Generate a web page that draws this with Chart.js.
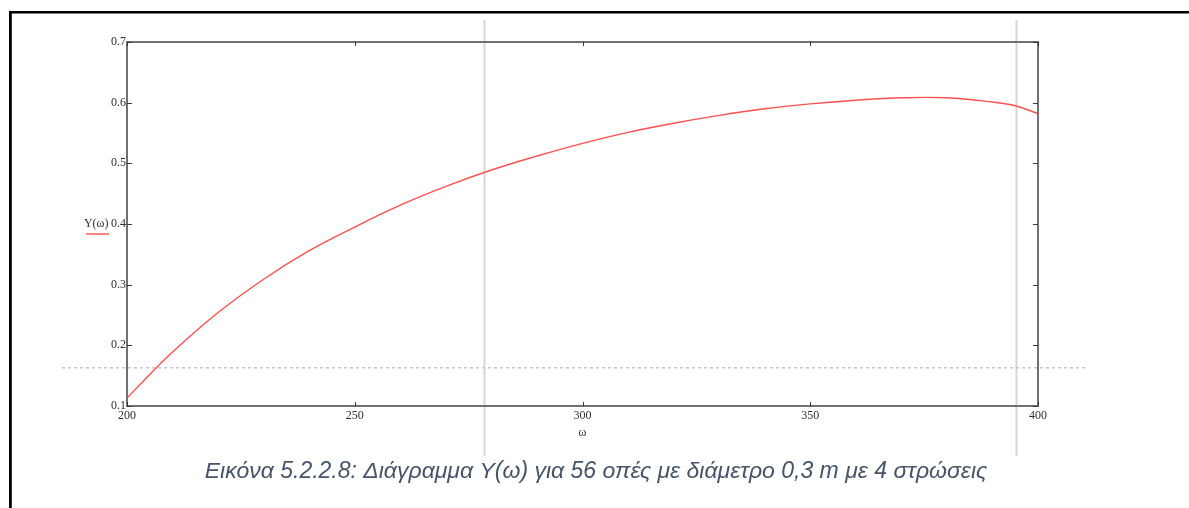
<!DOCTYPE html>
<html>
<head>
<meta charset="utf-8">
<script src="https://cdn.jsdelivr.net/npm/chart.js@4"></script>
<style>
  html, body { margin: 0; padding: 0; background: #ffffff; }
  canvas { display: block; }
</style>
</head>
<body>
<canvas id="chart" width="1189" height="508"></canvas>
<script>
// ω samples and the response Y(ω)
const omega  = [200, 205, 210, 220, 230, 240, 250, 260, 270, 280, 290, 300,
                310, 320, 330, 340, 350, 360, 370, 380, 390, 395, 400];
const yOmega = [0.113, 0.152, 0.189, 0.254, 0.309, 0.356, 0.395, 0.431, 0.462, 0.489, 0.512, 0.533,
                0.551, 0.566, 0.579, 0.590, 0.598, 0.604, 0.608, 0.608, 0.601, 0.595, 0.582];

// axis ticks
const xTicks = [200, 250, 300, 350, 400];
const yTicks = [0.1, 0.2, 0.3, 0.4, 0.5, 0.6, 0.7];

// trace markers (vertical at ω, horizontal at Y)
const markerOmega = [278.3, 395.1];
const markerY = [0.163];

const caption = 'Εικόνα 5.2.2.8: Διάγραμμα Υ(ω) για 56 οπές με διάμετρο 0,3 m με 4 στρώσεις';
const traceName = 'Y(ω)';

const tickFont = { family: '"Liberation Serif", "DejaVu Serif", serif', size: 12 };
const tickColor = '#2f2f2f';

const decorations = {
  id: 'decorations',
  beforeDraw(chart) {
    const ctx = chart.ctx;
    ctx.save();
    // page frame
    ctx.fillStyle = '#000000';
    ctx.fillRect(9, 11, 1180, 2.5);
    ctx.fillRect(9, 11, 2.8, 497);

    // caption
    ctx.fillStyle = '#44546a';
    ctx.font = 'italic 23px "Liberation Sans", Arial, sans-serif';
    ctx.textAlign = 'center';
    ctx.textBaseline = 'alphabetic';
    ctx.fillText(caption, 596, 478);

    // trace name with its line sample
    const y = chart.scales.y;
    const yMid = y.getPixelForValue(0.4);
    ctx.fillStyle = '#2f2f2f';
    ctx.font = '12px "Liberation Serif", "DejaVu Serif", serif';
    ctx.textAlign = 'right';
    ctx.textBaseline = 'middle';
    ctx.fillText(traceName, 108.5, yMid);
    ctx.strokeStyle = '#ff5050';
    ctx.lineWidth = 1.4;
    ctx.beginPath();
    ctx.moveTo(86, yMid + 10);
    ctx.lineTo(109, yMid + 10);
    ctx.stroke();
    ctx.restore();
  },
  beforeDatasetsDraw(chart) {
    const ctx = chart.ctx;
    const { x, y } = chart.scales;
    ctx.save();
    ctx.strokeStyle = '#d6d6d6';
    ctx.lineWidth = 2;
    markerOmega.forEach(v => {
      const px = Math.round(x.getPixelForValue(v)) + 0.5;
      ctx.beginPath();
      ctx.moveTo(px, 20);
      ctx.lineTo(px, 456);
      ctx.stroke();
    });
    ctx.strokeStyle = '#c9c9c9';
    ctx.lineWidth = 1.5;
    ctx.setLineDash([3, 3]);
    markerY.forEach(v => {
      const py = y.getPixelForValue(v);
      ctx.beginPath();
      ctx.moveTo(62, py);
      ctx.lineTo(1087, py);
      ctx.stroke();
    });
    ctx.restore();
  },
  afterDatasetsDraw(chart) {
    const ctx = chart.ctx;
    const { x, y } = chart.scales;
    const a = chart.chartArea;
    ctx.save();
    // plot frame
    ctx.strokeStyle = '#707070';
    ctx.lineWidth = 2;
    ctx.strokeRect(a.left, a.top, a.right - a.left, a.bottom - a.top);
    // inward tick marks on all four sides
    ctx.strokeStyle = '#3a3a3a';
    ctx.lineWidth = 1;
    x.ticks.forEach(t => {
      const px = Math.round(x.getPixelForValue(t.value)) + 0.5;
      ctx.beginPath();
      ctx.moveTo(px, a.bottom); ctx.lineTo(px, a.bottom - 4);
      ctx.moveTo(px, a.top); ctx.lineTo(px, a.top + 4);
      ctx.stroke();
    });
    y.ticks.forEach(t => {
      const py = Math.round(y.getPixelForValue(t.value)) + 0.5;
      ctx.beginPath();
      ctx.moveTo(a.left, py); ctx.lineTo(a.left + 5, py);
      ctx.moveTo(a.right, py); ctx.lineTo(a.right - 5, py);
      ctx.stroke();
    });
    ctx.restore();
  }
};

new Chart(document.getElementById('chart'), {
  type: 'line',
  data: {
    datasets: [{
      label: traceName,
      data: omega.map((w, i) => ({ x: w, y: yOmega[i] })),
      borderColor: '#ff4f4f',
      borderWidth: 1.4,
      pointRadius: 0,
      fill: false,
      tension: 0.4
    }]
  },
  options: {
    responsive: false,
    animation: false,
    devicePixelRatio: 1,
    layout: { padding: { left: 0, right: 151, top: 42, bottom: 68 } },
    plugins: { legend: { display: false }, tooltip: { enabled: false } },
    scales: {
      x: {
        type: 'linear',
        min: 200, max: 400,
        afterBuildTicks(scale) { scale.ticks = xTicks.map(v => ({ value: v })); },
        afterFit(scale) { scale.height = 34; scale.paddingLeft = 0; scale.paddingRight = 0; },
        grid: { display: false, drawTicks: false },
        border: { display: false },
        ticks: { font: tickFont, color: tickColor, padding: 3, maxRotation: 0, autoSkip: false },
        title: { display: true, text: 'ω', font: tickFont, color: tickColor, padding: { top: 0, bottom: 0 } }
      },
      y: {
        type: 'linear',
        min: 0.1, max: 0.7,
        afterBuildTicks(scale) { scale.ticks = yTicks.map(v => ({ value: v })); },
        afterFit(scale) { scale.width = 127; scale.paddingTop = 0; scale.paddingBottom = 0; },
        grid: { display: false, drawTicks: false },
        border: { display: false },
        ticks: {
          font: tickFont, color: tickColor, padding: 1, autoSkip: false,
          callback: v => v.toFixed(1)
        }
      }
    }
  },
  plugins: [decorations]
});
</script>
</body>
</html>
